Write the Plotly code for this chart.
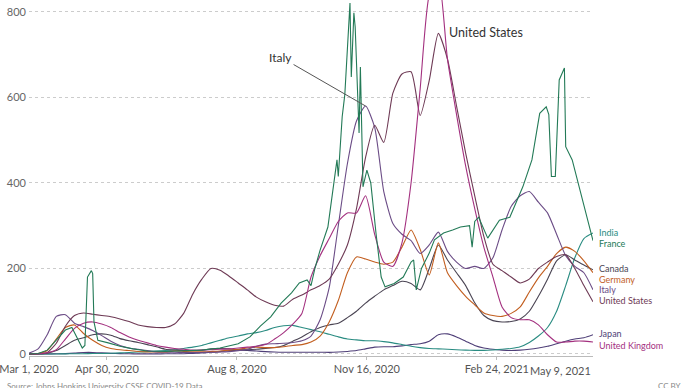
import plotly.graph_objects as go
import pandas as pd

# ---------------- data ----------------
weeks = pd.date_range("2020-03-01", "2021-05-09", freq="7D").strftime("%Y-%m-%d").tolist()

united_states = [0, 0.3, 3, 25, 65, 90, 96, 93, 90, 87, 82, 76, 68, 64, 62, 62, 70, 95, 140, 175,
                 200, 196, 182, 166, 150, 133, 122, 114, 112, 128, 138, 150, 160, 175, 210, 255, 340, 460, 535, 495,
                 610, 655, 660, 558, 640, 750, 690, 580, 470, 370, 275, 210, 195, 180, 166, 175, 200, 215, 228, 232,
                 200, 160, 122]
united_kingdom = [0, 0.5, 3, 10, 35, 60, 72, 75, 70, 62, 50, 40, 32, 26, 20, 16, 13, 11, 9, 9,
                  10, 11, 12, 14, 16, 18, 22, 35, 50, 70, 95, 180, 230, 270, 310, 330, 330, 370, 280, 215,
                  205, 260, 400, 620, 840, 880, 690, 560, 440, 340, 250, 180, 110, 85, 80, 80, 68, 45, 28, 28,
                  30, 30, 28]
italy = [2, 12, 45, 88, 92, 72, 64, 55, 43, 30, 20, 14, 11, 8, 5, 4.5, 4, 3.5, 3.5, 3.5,
         4, 4.5, 5.5, 7.5, 11, 18, 23, 24, 25, 27, 31, 42, 80, 155, 300, 445, 545, 580, 530, 380,
         305, 280, 265, 235, 255, 285, 240, 215, 200, 205, 200, 225, 290, 345, 370, 380, 355, 330, 280, 230,
         205, 190, 150]
canada = [0, 0.5, 2, 8, 20, 32, 38, 45, 47, 44, 36, 31, 27, 22, 17, 11, 9, 8, 8, 9,
          12, 13, 12, 10, 10, 11, 13, 15, 20, 30, 40, 52, 62, 68, 72, 85, 100, 119, 135, 150,
          160, 170, 165, 150, 200, 255, 220, 190, 160, 120, 90, 78, 75, 76, 82, 100, 135, 175, 218, 232,
          220, 208, 197]
germany = [0.2, 1, 8, 35, 62, 68, 48, 32, 20, 13, 10, 8, 6, 5, 4.5, 4, 7, 6, 5, 5,
           6, 7, 9, 11, 14, 16, 15, 15, 17, 20, 22, 28, 42, 75, 125, 190, 227, 222, 215, 210,
           215, 250, 290, 245, 185, 260, 190, 160, 135, 115, 96, 90, 88, 95, 110, 145, 178, 205, 235, 250,
           240, 218, 190]
india = [0, 0, 0.1, 0.1, 0.3, 0.5, 0.7, 1, 1.3, 1.8, 2.5, 3.4, 4.5, 5.5, 6.7, 8, 10, 13, 16, 20,
         26, 32, 38, 42, 47, 50, 55, 62, 66, 67, 62, 57, 52, 46, 40, 35, 33, 31, 31, 29,
         26, 22, 18, 15, 13, 12, 11, 10, 9, 8.5, 8.5, 9.5, 11, 13, 17, 27, 42, 62, 100, 160,
         225, 270, 283]
japan = [0.1, 0.2, 0.3, 0.4, 0.9, 2, 3.5, 3.6, 2.5, 1.5, 0.8, 0.4, 0.3, 0.3, 0.3, 0.4, 0.4, 0.7, 1.5, 2.5,
         4, 5.5, 8, 9, 8.5, 7, 5.5, 4.5, 4, 4, 4, 4, 4.2, 3.7, 4.5, 6, 8, 12, 16, 17,
         17, 19, 22, 24, 30, 45, 47, 40, 30, 20, 14, 11, 9, 8, 9, 11, 14, 18, 24, 30,
         35, 38, 45]

france_dates = ["2020-03-01", "2020-03-08", "2020-03-15", "2020-03-22", "2020-03-29", "2020-04-03",
                "2020-04-08", "2020-04-11", "2020-04-13", "2020-04-15", "2020-04-18", "2020-04-19",
                "2020-04-20", "2020-04-23", "2020-05-01", "2020-05-10", "2020-05-20", "2020-05-31",
                "2020-06-14", "2020-06-28", "2020-07-12", "2020-07-26", "2020-08-09", "2020-08-18",
                "2020-08-26", "2020-09-03", "2020-09-11", "2020-09-19", "2020-09-25", "2020-10-01",
                "2020-10-04", "2020-10-07", "2020-10-11", "2020-10-17", "2020-10-21", "2020-10-24",
                "2020-10-25", "2020-10-28", "2020-10-30", "2020-11-01", "2020-11-03", "2020-11-04",
                "2020-11-06", "2020-11-07", "2020-11-10", "2020-11-11", "2020-11-13", "2020-11-16",
                "2020-11-19", "2020-11-23", "2020-11-27", "2020-11-30", "2020-12-07", "2020-12-14",
                "2020-12-20", "2020-12-22", "2020-12-24", "2020-12-28", "2021-01-03", "2021-01-07",
                "2021-01-14", "2021-01-21", "2021-01-27", "2021-02-03", "2021-02-05", "2021-02-07",
                "2021-02-10", "2021-02-17", "2021-02-26", "2021-03-06", "2021-03-16", "2021-03-23",
                "2021-03-29", "2021-04-03", "2021-04-05", "2021-04-06", "2021-04-07", "2021-04-10",
                "2021-04-13", "2021-04-17", "2021-04-18", "2021-04-23", "2021-05-01", "2021-05-09"]
france = [0, 1, 9, 33, 56, 62,
          30, 14, 20, 180, 195, 188,
          75, 32, 26, 18, 12, 7,
          6, 7, 9, 14, 24, 40,
          65, 87, 119, 143, 166, 173,
          160, 200, 243, 297, 384, 454,
          415, 555, 606, 711, 821, 648,
          798, 765, 517, 671, 391, 430,
          400, 283, 180, 157, 165, 180,
          215, 220, 150, 200, 236, 267,
          283, 290, 297, 300, 250, 310,
          320, 271, 313, 320, 391, 454,
          563, 578, 560, 485, 415, 415,
          641, 669, 485, 454, 360, 265]

countries = ["India", "France", "Canada", "Germany", "Italy", "United States", "Japan", "United Kingdom"]
colors = {"India": "#2a8c82", "France": "#237a57", "Canada": "#4a4453", "Germany": "#c25e1f",
          "Italy": "#6b4c86", "United States": "#6e3a55", "Japan": "#4f3f78", "United Kingdom": "#a3307f"}
label_values = {"India": 284, "France": 259, "Canada": 201, "Germany": 175, "Italy": 150,
                "United States": 124, "Japan": 47, "United Kingdom": 21}

tick_dates = ["2020-03-01", "2020-04-30", "2020-08-08", "2020-11-16", "2021-02-24"]
tick_text = ["Mar 1, 2020", "Apr 30, 2020", "Aug 8, 2020", "Nov 16, 2020", "Feb 24, 2021"]
last_tick_date = "2021-05-09"
last_tick_text = "May 9, 2021"
y_ticks = [0, 200, 400, 600, 800]

series = {"India": (weeks, india), "France": (france_dates, france), "Canada": (weeks, canada),
          "Germany": (weeks, germany), "Italy": (weeks, italy), "United States": (weeks, united_states),
          "Japan": (weeks, japan), "United Kingdom": (weeks, united_kingdom)}

draw_order = ["Japan", "India", "Canada", "Germany", "Italy", "United States", "United Kingdom", "France"]

# ---------------- figure ----------------
fig = go.Figure()
for name in draw_order:
    xs, ys = series[name]
    smooth = name != "France"
    fig.add_trace(go.Scatter(
        x=xs, y=ys, mode="lines", name=name,
        line=dict(color=colors[name], width=1.1,
                  shape="spline" if smooth else "linear", smoothing=0.6),
        hoverinfo="skip", showlegend=False))

FONT = "Lato, Roboto, sans-serif"

# end labels
for name in countries:
    fig.add_annotation(x=last_tick_date, y=label_values[name], xref="x", yref="y",
                       text=name, showarrow=False, xanchor="left", yanchor="middle", xshift=4,
                       font=dict(family=FONT, size=9, color=colors[name]))

# callouts
fig.add_annotation(x="2020-11-15", y=580, text="Italy", showarrow=True, arrowhead=0,
                   arrowwidth=1, arrowcolor="#555", ax=-85, ay=-49,
                   font=dict(family=FONT, size=12, color="#333"))
fig.add_annotation(x="2021-01-13", y=752, text="United States", showarrow=False,
                   xanchor="left", yanchor="middle", xshift=5,
                   font=dict(family=FONT, size=12.5, color="#333"))

# last x tick label, right aligned at the axis end
fig.add_annotation(x=last_tick_date, y=0, xref="x", yref="paper", yshift=-6,
                   text=last_tick_text, showarrow=False, xanchor="right", yanchor="top",
                   font=dict(family=FONT, size=11, color="#555"))

# footer (partly below the visible window, as in the reference)
fig.add_annotation(x=-0.043, y=-0.065, xref="paper", yref="paper", xanchor="left", yanchor="top",
                   text="Source: Johns Hopkins University CSSE COVID-19 Data", showarrow=False,
                   font=dict(family=FONT, size=8, color="#888"))
fig.add_annotation(x=1.16, y=-0.065, xref="paper", yref="paper", xanchor="right", yanchor="top",
                   text="CC BY", showarrow=False,
                   font=dict(family=FONT, size=8, color="#888"))

fig.update_layout(
    width=690, height=388,
    margin=dict(l=29, r=97, t=0, b=32),
    paper_bgcolor="white", plot_bgcolor="white",
    font=dict(family=FONT, size=11, color="#555"),
    xaxis=dict(range=["2020-03-01", "2021-05-09"], tickvals=tick_dates, ticktext=tick_text,
               showgrid=False, zeroline=False, showline=True, linecolor="#bbbbbb", linewidth=1,
               ticks="outside", ticklen=3, tickcolor="#bbbbbb", ticklabeloverflow="allow",
               tickfont=dict(family=FONT, size=11, color="#555")),
    yaxis=dict(range=[-4.7, 828], tickvals=y_ticks, showgrid=True, gridcolor="#cccccc",
               griddash="dot", gridwidth=1, zeroline=False, showline=False,
               ticklabelstandoff=2,
               tickfont=dict(family=FONT, size=11, color="#666")),
)

fig.write_html("out.html", config={"displayModeBar": False},
               post_script="document.body.style.margin='0';document.body.style.overflow='hidden';")
